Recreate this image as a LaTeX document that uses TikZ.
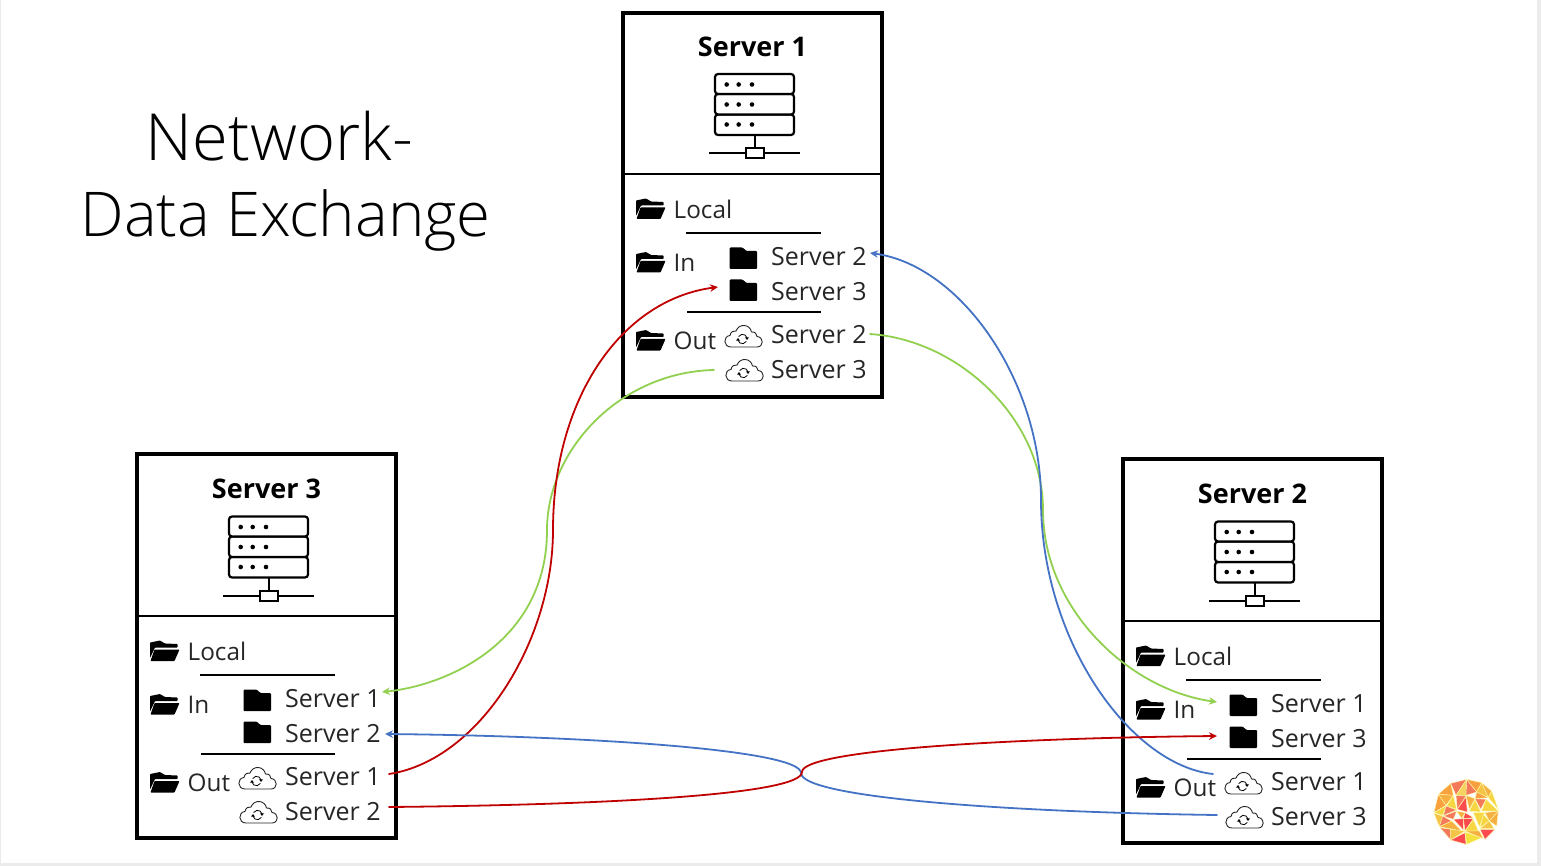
\documentclass[tikz,border=0pt]{standalone}
\usepackage{fontspec}
\setmainfont{Open Sans}
\newfontfamily\lightfont[UprightFont=* Light]{Open Sans}
\usetikzlibrary{arrows.meta}
\definecolor{cred}{HTML}{C00000}
\definecolor{cgreen}{HTML}{92D050}
\definecolor{cblue}{HTML}{4472C4}
\tikzset{
  frame/.style={draw=black,line width=3.6pt,fill=white},
  rule/.style={draw=black,line width=2pt},
  sep/.style={draw=black,line width=1.6pt},
  lab/.style={anchor=base west,inner sep=0pt,font=\fontsize{24.3}{28}\selectfont,text=black!85},
  labw/.style={anchor=base west,inner sep=0pt,font=\fontsize{25}{28}\selectfont,text=black!85},
  srvtitle/.style={anchor=base,inner sep=0pt,font=\fontsize{27}{30}\selectfont\bfseries,text=black},
  bigtitle/.style={anchor=base,inner sep=0pt,font=\fontsize{61.7}{70}\selectfont\lightfont,text=black},
  bigtitlew/.style={anchor=base,inner sep=0pt,font=\fontsize{65}{70}\selectfont\lightfont,text=black},
  rack/.style={draw=black,line width=2.2pt,fill=white,rounded corners=3pt},
  link/.style={line width=1.8pt,line cap=round},
  tip/.style={-{Stealth[length=8pt,width=7.5pt]}},
  tri/.style={draw=white!70!yellow,line width=.4pt},
}
% icons: top-left corner at (#1,#2), pixel coordinates
\newcommand{\openfolder}[2]{%
  \begin{scope}[shift={(#1,#2)}]
    \fill[black,rounded corners=.7pt] (0,17.5)--(0,2)--(10,0)--(15,3)--(27.5,3.5)--(27.5,7)--(5,7)--cycle;
    \fill[black,rounded corners=.7pt] (4.5,9)--(29.5,9)--(24.5,20.5)--(.5,20.5)--cycle;
  \end{scope}}
\newcommand{\closedfolder}[2]{%
  \begin{scope}[shift={(#1,#2)}]
    \fill[black,rounded corners=1pt] (0,22)--(0,.5)--(13,.5)--(17,4)--(27.5,4)--(27.5,22)--cycle;
  \end{scope}}
\newcommand{\syncloud}[2]{%
  \begin{scope}[shift={(#1,#2)}]
    \draw[black!85,line width=.9pt,line join=round]
      (6,22) .. controls (-2,22) and (-2,11) .. (5,10.5)
      .. controls (5.5,6.5) and (9,5.5) .. (11,6)
      .. controls (14,-2) and (25,-1) .. (26.5,7)
      .. controls (30,6.5) and (32,9) .. (32,11.5)
      .. controls (39,12) and (39,22) .. (32,22) -- cycle;
    \draw[black,line width=.8pt] (22,13) arc (-10:-150:4.5);
    \draw[black,line width=.8pt] (13,15) arc (170:30:4.5);
    \fill[black] (20,12.3)--(24,12.3)--(22,15)--cycle;
    \fill[black] (11,15.7)--(15,15.7)--(13,13)--cycle;
  \end{scope}}
\newcommand{\rackdots}[1]{%
  \fill[black] (726.7,#1) circle (2.3) (738.7,#1) circle (2.3) (752,#1) circle (2.3);}
% #1 name, #2 title, #3 first peer, #4 second peer, #5 dx, #6 dy, #7 icon offset, #8 divider y
\newcommand{\serverblock}[8]{%
  \begin{scope}[shift={(#5,#6)}]
    \draw[frame] (623,13) rectangle (882,397);
    \draw[rule] (623,#8) -- (882,#8);
    \node[srvtitle] (#1-title) at (752.5,57) {#2};
    \begin{scope}[shift={(0,#7)}]
    \draw[rack] (715,114.5) rectangle (794,135);
    \draw[rack] (715,94) rectangle (794,114.5);
    \draw[rack] (715,74) rectangle (794,94);
    \rackdots{84.5}\rackdots{104.5}\rackdots{124.5}
    \draw[rule] (754.5,135) -- (754.5,148);
    \draw[rule] (709,153.5) -- (800,153.5);
    \draw[rule,fill=white] (745.5,148) rectangle (763.5,158.5);
    \end{scope}
    \begin{scope}[shift={(0,#8-174)}]
    \openfolder{636}{198.5}
    \node[lab] (#1-local) at (673.5,218.5) {Local};
    \draw[sep] (686,233) -- (821,233);
    \openfolder{636}{252}
    \node[lab] (#1-in) at (673.5,271.5) {In};
    \closedfolder{729.5}{247}
    \node[labw] (#1-ina) at (771,265.5) {#3};
    \closedfolder{729.5}{279}
    \node[labw] (#1-inb) at (771,300.5) {#4};
    \draw[sep] (687,312) -- (821,312);
    \openfolder{636}{330}
    \node[lab] (#1-out) at (673.5,349) {Out};
    \syncloud{725}{325}
    \node[labw] (#1-outa) at (771,343) {#3};
    \syncloud{726}{359}
    \node[labw] (#1-outb) at (771,378) {#4};
    \end{scope}
  \end{scope}}
\begin{document}
\begin{tikzpicture}[x=1pt,y=-1pt]
\useasboundingbox (0,0) rectangle (1541,866);
\fill[white] (0,0) rectangle (1541,866);
\fill[black!8] (1537,0) rectangle (1541,866);
\fill[black!8] (0,863) rectangle (1541,866);
\fill[black!8] (0,0) rectangle (1,866);

\node[bigtitlew] (title1) at (279.5,161) {Network-};
\node[bigtitle] (title2) at (285.5,237) {Data Exchange};

\serverblock{sa}{Server 1}{Server 2}{Server 3}{0}{0}{0}{174}
\serverblock{sc}{Server 3}{Server 1}{Server 2}{-486}{441}{1.5}{175}
\serverblock{sb}{Server 2}{Server 1}{Server 3}{500}{446}{1.5}{175}

% connector ends
\coordinate (a-ina) at (870,253);
\coordinate (a-inb) at (718,287);
\coordinate (a-outa) at (870,334);
\coordinate (a-outb) at (714,370);
\coordinate (c-ina) at (382,692);
\coordinate (c-inb) at (385,734);
\coordinate (c-outa) at (389,774);
\coordinate (c-outb) at (389,807);
\coordinate (b-ina) at (1217,702);
\coordinate (b-inb) at (1217,736);
\coordinate (b-outa) at (1213,774);
\coordinate (b-outb) at (1217,815);

\draw[link,cgreen,tip] (a-outb) .. controls (620,372) and (547,450) .. (547,530)
  .. controls (547,640) and (450,685) .. (c-ina);
\draw[link,cred,tip] (c-outa) .. controls (480,760) and (553,640) .. (553,530)
  .. controls (553,400) and (620,300) .. (a-inb);
\draw[link,cgreen,tip] (a-outa) .. controls (960,340) and (1043,420) .. (1043,510)
  .. controls (1043,610) and (1130,690) .. (b-ina);
\draw[link,cblue,tip] (b-outa) .. controls (1130,765) and (1041,640) .. (1041,500)
  .. controls (1041,380) and (960,265) .. (a-ina);
\draw[link,cblue,tip] (b-outb) .. controls (1000,812) and (801,797) .. (801,773)
  .. controls (801,750) and (590,736) .. (c-inb);
\draw[link,cred,tip] (c-outb) .. controls (600,805) and (802,795) .. (802,772)
  .. controls (802,750) and (1010,738) .. (b-inb);

% logo
\begin{scope}[shift={(1420,766)},x=.3333pt,y=-.3333pt]
\foreach \c/\p in {
 F9A03F/{(92,52)--(55,85)--(100,88)},
 F4795B/{(92,52)--(140,40)--(108,88)},
 F4D35E/{(140,40)--(108,88)--(138,90)},
 F4795B/{(140,40)--(138,88)--(170,78)},
 F9A03F/{(140,40)--(185,50)--(170,78)},
 F6C445/{(185,50)--(170,78)--(205,95)},
 F6B042/{(185,50)--(215,75)--(205,95)},
 F9A03F/{(170,78)--(205,95)--(165,98)},
 F4795B/{(165,98)--(198,100)--(182,130)},
 F6D743/{(205,95)--(215,75)--(235,130)},
 F6D743/{(198,100)--(235,135)--(185,135)},
 F9A03F/{(55,85)--(42,140)--(78,118)},
 F6B042/{(55,85)--(100,88)--(78,118)},
 F6D743/{(100,88)--(80,120)--(110,130)},
 F4795B/{(108,88)--(138,90)--(112,130)},
 FB4B4E/{(138,92)--(112,130)--(142,138)},
 F6B042/{(138,88)--(165,98)--(148,130)},
 F6D743/{(165,100)--(148,135)--(182,138)},
 F6D743/{(42,140)--(78,120)--(68,148)},
 F4795B/{(78,120)--(110,132)--(70,148)},
 F4795B/{(70,150)--(110,135)--(100,160)},
 F6B042/{(110,135)--(135,140)--(125,158)},
 FB4B4E/{(135,140)--(160,155)--(130,158)},
 F6C445/{(42,142)--(68,150)--(58,182)},
 F4795B/{(68,150)--(58,182)--(95,165)},
 F6B042/{(95,165)--(58,182)--(125,195)},
 FB4B4E/{(100,160)--(130,158)--(130,192)},
 FB4B4E/{(130,158)--(160,158)--(135,195)},
 F6D743/{(160,160)--(135,195)--(175,195)},
 F6D743/{(160,140)--(195,140)--(178,182)},
 F6B042/{(195,140)--(235,135)--(208,165)},
 F6D743/{(190,145)--(208,165)--(180,185)},
 F6B042/{(235,135)--(230,180)--(208,165)},
 F6C445/{(208,165)--(222,188)--(180,188)},
 FB4B4E/{(180,190)--(225,190)--(195,220)},
 F4795B/{(60,185)--(92,190)--(95,225)},
 F6C445/{(92,190)--(135,195)--(92,222)},
 FB4B4E/{(92,222)--(135,200)--(138,235)},
 F6E03E/{(135,198)--(185,215)--(140,235)},
 F6B042/{(135,195)--(178,195)--(190,218)}
}{\definecolor{tric}{HTML}{\c}\filldraw[tri,fill=tric] \p--cycle;}
\end{scope}
\end{tikzpicture}
\end{document}
